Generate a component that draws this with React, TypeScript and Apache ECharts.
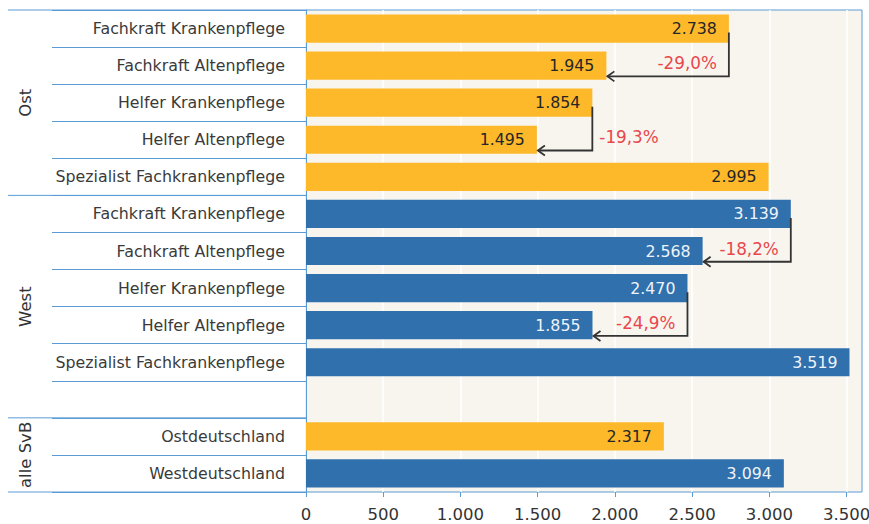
import React, { useEffect, useRef } from "react";
import * as echarts from "echarts";

const categories = [
  "Fachkraft Krankenpflege",
  "Fachkraft Altenpflege",
  "Helfer Krankenpflege",
  "Helfer Altenpflege",
  "Spezialist Fachkrankenpflege",
  "Fachkraft Krankenpflege",
  "Fachkraft Altenpflege",
  "Helfer Krankenpflege",
  "Helfer Altenpflege",
  "Spezialist Fachkrankenpflege",
  "",
  "Ostdeutschland",
  "Westdeutschland",
];

const ostValues = [2738, 1945, 1854, 1495, 2995, null, null, null, null, null, null, 2317, null];
const westValues = [null, null, null, null, null, 3139, 2568, 2470, 1855, 3519, null, null, 3094];

const groups = [
  { name: "Ost", start: 0, end: 5 },
  { name: "West", start: 5, end: 11 },
  { name: "alle SvB", start: 11, end: 13 },
];

const changes = [
  { from: 0, to: 1, label: "-29,0%", side: "left", series: "ost" },
  { from: 2, to: 3, label: "-19,3%", side: "right", series: "ost" },
  { from: 5, to: 6, label: "-18,2%", side: "left", series: "west" },
  { from: 7, to: 8, label: "-24,9%", side: "left", series: "west" },
];

const xTicks = [0, 500, 1000, 1500, 2000, 2500, 3000, 3500];

const FONT = "'DejaVu Sans', 'Open Sans', sans-serif";
const BLUE_LINE = "#5b9bd5";

const fmt = (v: number) => String(v).replace(/\B(?=(\d{3})+(?!\d))/g, ".");

export default function App() {
  const ref = useRef<HTMLDivElement>(null);

  useEffect(() => {
    if (!ref.current) return;
    const chart = echarts.init(ref.current, null, { renderer: "svg" });

    const arrowData = changes.map((c) => {
      const arr = c.series === "ost" ? ostValues : westValues;
      return [arr[c.from] as number, c.from, arr[c.to] as number, c.to];
    });

    const gridLeft = 306;

    chart.setOption({
      animation: false,
      backgroundColor: "#ffffff",
      grid: {
        left: gridLeft,
        right: 7,
        top: 10,
        bottom: 32,
        show: true,
        outerBoundsMode: "none",
        containLabel: false,
        backgroundColor: "#f8f5ef",
        borderColor: BLUE_LINE,
        borderWidth: 1,
      },
      xAxis: {
        type: "value",
        min: 0,
        max: 3600,
        interval: 500,
        axisLine: { show: false },
        axisTick: {
          show: true,
          length: 5,
          lineStyle: { color: BLUE_LINE },
          customValues: xTicks,
        },
        axisLabel: {
          fontSize: 16.5,
          fontFamily: FONT,
          color: "#333333",
          margin: 14,
          customValues: xTicks,
          formatter: (v: number) => (v > 3500 ? "" : fmt(v)),
        },
        splitLine: { show: true, lineStyle: { color: "#ffffff", width: 1.5 } },
      },
      yAxis: {
        type: "category",
        data: categories,
        inverse: true,
        axisLine: { show: true, lineStyle: { color: BLUE_LINE } },
        axisTick: {
          show: true,
          interval: 0,
          length: 254,
          lineStyle: { color: BLUE_LINE },
        },
        axisLabel: {
          interval: 0,
          fontSize: 15.8,
          fontFamily: FONT,
          color: "#3a3a3a",
          margin: 21,
        },
      },
      series: [
        {
          type: "bar",
          name: "Ost",
          data: ostValues,
          barWidth: "76%",
          barGap: "-100%",
          itemStyle: { color: "#fdb92a" },
          label: {
            show: true,
            position: "insideRight",
            distance: 12,
            formatter: (p: any) => fmt(p.value),
            color: "#262626",
            fontSize: 15.8,
            fontFamily: FONT,
          },
        },
        {
          type: "bar",
          name: "West",
          data: westValues,
          barWidth: "76%",
          barGap: "-100%",
          itemStyle: { color: "#3070ac" },
          label: {
            show: true,
            position: "insideRight",
            distance: 12,
            formatter: (p: any) => fmt(p.value),
            color: "#eef3f9",
            fontSize: 15.8,
            fontFamily: FONT,
          },
        },
        {
          type: "custom",
          z: 10,
          encode: { x: [0, 2], y: [1, 3] },
          data: arrowData,
          renderItem: (params: any, api: any) => {
            const c = changes[params.dataIndex];
            const p1 = api.coord([api.value(0), api.value(1)]);
            const p2 = api.coord([api.value(2), api.value(3)]);
            const band = api.size([0, 1])[1];
            const x1 = p1[0];
            const y1 = p1[1] + band * 0.11;
            const x2 = p2[0];
            const y2 = p2[1] + band * 0.29;
            const stroke = { stroke: "#333333", lineWidth: 1.8, fill: "none" };
            return {
              type: "group",
              children: [
                {
                  type: "polyline",
                  shape: { points: [[x1, y1], [x1, y2], [x2 + 1, y2]] },
                  style: stroke,
                },
                {
                  type: "polyline",
                  shape: { points: [[x2 + 8, y2 - 5], [x2 + 1, y2], [x2 + 8, y2 + 5]] },
                  style: stroke,
                },
                {
                  type: "text",
                  x: c.side === "left" ? x1 - 12 : x1 + 7,
                  y: p2[1] - 2.5,
                  style: {
                    text: c.label,
                    fill: "#e8474c",
                    fontSize: 16.8,
                    fontFamily: FONT,
                    align: c.side === "left" ? "right" : "left",
                    verticalAlign: "middle",
                  },
                },
              ],
            };
          },
        },
      ],
    });

    const c0 = chart.convertToPixel({ yAxisIndex: 0 } as any, 0) as number;
    const c1 = chart.convertToPixel({ yAxisIndex: 0 } as any, 1) as number;
    const h = c1 - c0;
    const boundary = (i: number) => c0 + (i - 0.5) * h;

    const graphics: any[] = [];
    groups.forEach((g) => {
      graphics.push({
        type: "line",
        shape: { x1: 8, y1: boundary(g.start), x2: gridLeft, y2: boundary(g.start) },
        style: { stroke: BLUE_LINE, lineWidth: 1 },
      });
      graphics.push({
        type: "text",
        x: 25,
        y: (boundary(g.start) + boundary(g.end)) / 2,
        rotation: Math.PI / 2,
        style: {
          text: g.name,
          fill: "#333333",
          fontSize: 16.5,
          fontFamily: FONT,
          align: "center",
          verticalAlign: "middle",
        },
      });
    });
    const last = groups[groups.length - 1];
    graphics.push({
      type: "line",
      shape: { x1: 8, y1: boundary(last.end), x2: gridLeft, y2: boundary(last.end) },
      style: { stroke: BLUE_LINE, lineWidth: 1 },
    });

    chart.setOption({ graphic: graphics });

    return () => chart.dispose();
  }, []);

  return (
    <div
      ref={ref}
      style={{ position: "fixed", left: 0, top: 0, width: 869, height: 524, background: "#fff" }}
    />
  );
}
